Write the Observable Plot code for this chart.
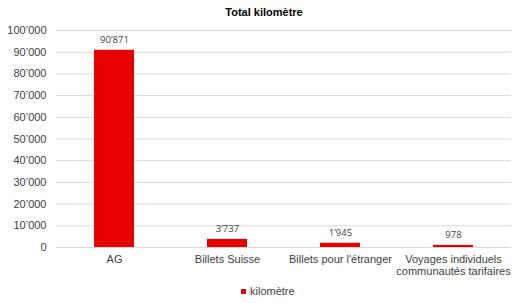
<!DOCTYPE html>
<html>
<head>
<meta charset="utf-8">
<script src="https://cdn.jsdelivr.net/npm/d3@7"></script>
<script src="https://cdn.jsdelivr.net/npm/@observablehq/plot@0.6"></script>
<style>
  body { margin: 0; background: #fff; font-family: "Liberation Sans", Arial, sans-serif; }
  #wrap { position: relative; width: 512px; height: 303px; overflow: hidden; }
  #title { position: absolute; left: 0; width: 528px; top: 6px; text-align: center; font-weight: bold; font-size: 11px; color: #000; }
  #chart { position: absolute; left: 0; top: 22px; }
  #legend { position: absolute; left: 241px; top: 285px; font-size: 11px; color: #404040; display: flex; align-items: center; }
  #legend span.sw { display: inline-block; width: 5px; height: 5px; background: #e60000; margin-right: 4px; }
</style>
</head>
<body>
<div id="wrap">
  <div id="title">Total kilomètre</div>
  <div id="chart"></div>
  <div id="legend"><span class="sw"></span><span>kilomètre</span></div>
</div>
<script>
const categories = ["AG", "Billets Suisse", "Billets pour l'étranger", "Voyages individuels\ncommunautés tarifaires"];
const values = [90871, 3737, 1945, 978];
const yTicks = [0, 10000, 20000, 30000, 40000, 50000, 60000, 70000, 80000, 90000, 100000];
const seriesName = "kilomètre";

const data = categories.map((c, i) => ({category: c, value: values[i]}));
const fmt = d3.formatLocale({decimal: ".", thousands: "’", grouping: [3], currency: ["", ""]}).format(",d");

const chart = Plot.plot({
  width: 512,
  height: 258,
  marginTop: 8,
  marginBottom: 33,
  marginLeft: 56,
  marginRight: 1,
  style: {fontFamily: "'Liberation Sans', Arial, sans-serif", fontSize: "11px", color: "#404040", background: "#fff"},
  x: {domain: categories, paddingInner: 0.65, paddingOuter: 0.325, label: null},
  y: {domain: [0, 100000], label: null},
  marks: [
    Plot.ruleY(yTicks, {stroke: "#d9d9d9", strokeWidth: 1}),
    Plot.barY(data, {x: "category", y: "value", fill: "#e60000"}),
    Plot.text(data, {x: "category", y: "value", text: d => fmt(d.value), dy: -10, fontSize: 9.5, fill: "#404040", fontFamily: "'Open Sans', sans-serif"}),
    Plot.axisY({ticks: yTicks, tickFormat: fmt, tickSize: 0, tickPadding: 10, fontSize: 11, fill: "#404040", label: null}),
    Plot.axisX({tickSize: 0, tickPadding: 7, fontSize: 11, fill: "#404040", label: null, lineHeight: 1.1})
  ]
});
document.getElementById("chart").appendChild(chart);
</script>
</body>
</html>
